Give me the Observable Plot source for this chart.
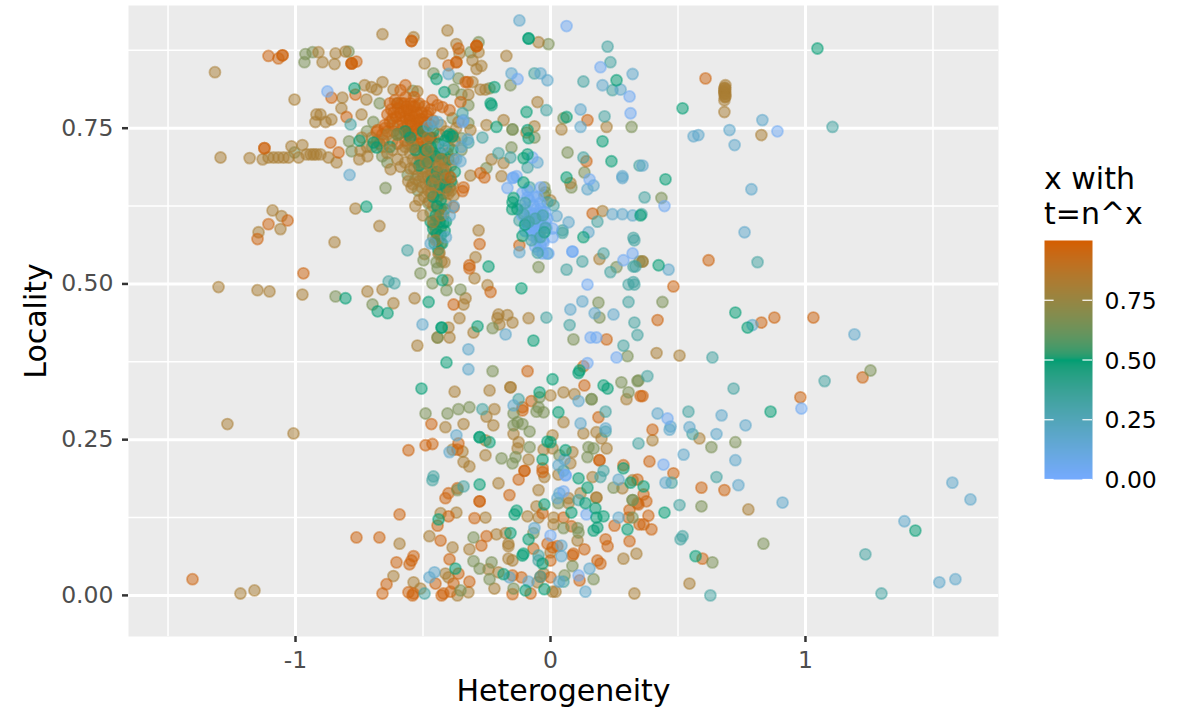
<!DOCTYPE html>
<html><head><meta charset="utf-8">
<script src="https://cdn.jsdelivr.net/npm/d3@7"></script>
<script src="https://cdn.jsdelivr.net/npm/@observablehq/plot@0.6"></script>
<style>
html,body{margin:0;padding:0;background:#fff;font-family:"DejaVu Sans",sans-serif}
#wrap{position:relative;width:1179px;height:711px;overflow:hidden}
#wrap svg{position:absolute;left:0;top:0;background:transparent}
#legend{position:absolute;left:1044px;top:162px;font-size:30px;line-height:34.5px;color:#000;white-space:pre}
</style></head><body>
<div id="wrap"></div>
<script>
const tones = {orange:.97, tan:.82, olive:.66, green:.5, teal:.33, sky:.18, blue:.04};

const tanPoints = [[-1.316,.84],[-.91,.872],[-.894,.856],[-.843,.87],[-.804,.873],[-.847,.853],[-.659,.901],[-.537,.896],[-1.004,.796],[-.816,.799],[-.729,.819],[-.702,.816],[-.682,.812],[-.659,.824],[-.616,.812],[-.722,.796],[-.82,.782],[-.902,.772],[-.918,.772],[-.922,.76],[-.882,.76],[-.859,.764],[-.741,.772],[-1.016,.721],[-.973,.723],[-1.294,.703],[-1.18,.702],[-1.129,.7],[-1.106,.703],[-1.086,.703],[-1.067,.703],[-1.047,.703],[-1.027,.703],[-.988,.703],[-.957,.708],[-.941,.708],[-.929,.708],[-.918,.708],[-.902,.708],[-.871,.703],[-.839,.695],[-.745,.714],[-.718,.705],[-.627,.684],[-.588,.688],[-.765,.621],[-1.09,.618],[-1.055,.609],[-1.059,.588],[-1.145,.583],[-.847,.567],[-.671,.593],[-1.302,.495],[-1.149,.49],[-1.102,.488],[-.973,.483],[-.718,.488],[-.659,.491],[-.616,.469],[-1.267,.275],[-1.008,.26],[-1.216,.003],[-1.161,.008],[-.592,.083],[-.616,.031],[-.404,.907],[-.369,.885],[-.424,.87],[-.357,.87],[-.494,.854],[-.282,.872],[-.306,.859],[-.271,.85],[-.29,.845],[-.173,.866],[-.047,.888],[-.051,.792],[-.275,.812],[-.255,.812],[.22,.752],[.043,.748],[-.184,.763],[-.251,.755],[-.094,.743],[-.063,.753],[-.314,.747],[-.231,.7],[-.184,.694],[-.192,.673],[-.314,.674],[.078,.662],[0,.634],[.204,.617],[-.522,.809],[-.306,.824],[-.322,.804],[-.518,.787],[-.361,.76],[.192,.54],[.361,.536],[.682,.776],[.827,.739],
[-.282,.586],[-.294,.543],[-.298,.509],[-.247,.498],[-.494,.548],[-.439,.548],[-.427,.536],[-.416,.535],[-.404,.506],[-.533,.477],[-.333,.477],[-.341,.467],[-.357,.445],[-.4,.43],[-.302,.422],[-.443,.414],[-.396,.414],[-.522,.401],[-.204,.451],[-.208,.445],[-.169,.45],[-.149,.438],[-.2,.435],[-.086,.445],[-.376,.327],[-.239,.329],[-.157,.334],[-.157,.334],[.051,.326],[.094,.323],[.298,.315],[.416,.389],[.506,.385],[0,.321],[-.22,.299],[-.251,.287],[-.412,.27],[-.341,.275],[-.224,.273],[-.255,.249],[-.384,.234],[-.345,.231],[-.255,.225],[-.341,.214],[-.318,.207],[-.145,.259],[-.125,.246],[-.129,.236],[-.086,.218],[-.204,.18],[-.047,.169],[-.024,.19],[-.027,.234],[.008,.257],[.008,.236],[.051,.278],[.129,.26],[.18,.262],[.2,.252],[.22,.236],[.086,.23],[.078,.212],[.031,.194],[.165,.19],[.118,.164],[.071,.156],[.071,.148],[.18,.157],[.18,.157],[.322,.185],[.282,.172],[.286,.059],[.337,.067],[.329,.003],[.4,.249],[.584,.252],[.776,.138],[.008,.006],[.02,.006],[-.027,.035],[-.051,.021],[-.22,.011],[-.243,.042],[-.204,.037],[-.318,.074],[-.212,.098],[-.176,.1],[-.165,.083],[-.165,.079],[-.165,.059],[-.149,.056],[0,.069],[.106,.088],[.012,.114],[.012,.125],[-.055,.143],[-.047,.125],[-.09,.127],[-.255,.125],[-.369,.133],[-.431,.132],[-.475,.095],[-.384,.077],[-.537,.021],[-.412,.035],[-.4,.029],[-.365,0],[-.322,.005],[-.51,.011],[.545,.019]];

const brownPoints = [[.686,.819],[.682,.814],[.682,.808],[.686,.801],[.682,.795],[.686,.812],[.682,.805],[.682,.81],[.686,.805],[.684,.815],[.684,.8]];

const orangePoints = [[-1.106,.866],[-1.067,.862],[-1.051,.867],[-1.051,.867],[-.78,.854],[-.78,.854],[-.78,.854],[-.761,.857],[-.545,.89],[-.545,.89],[-.859,.799],[-.765,.804],[-.569,.819],[-.588,.811],[-.8,.768],[-1.122,.718],[-1.122,.718],[-.863,.727],[-.682,.744],[-.831,.711],[-1.031,.602],[-1.106,.596],[-1.149,.572],[-.969,.517],[-.761,.093],[-.671,.093],[-.592,.13],[-.604,.053],[-.643,.018],[-.659,.003],[-1.404,.026],[-.361,.878],[-.4,.851],[-.369,.856],[-.369,.856],[-.29,.882],[-.29,.882],[-.29,.882],[-.463,.795],[-.443,.787],[-.396,.779],[-.424,.784],[-.353,.792],[-.333,.824],[-.325,.824],[.145,.763],[-.275,.678],[-.259,.671],[.141,.697],[.165,.613],[-.392,.671],[-.341,.655],[-.345,.649],[-.38,.623],[.608,.83],[.62,.538],[.482,.496],[.42,.442],[.827,.438],[.878,.446],[1.031,.446],[1.224,.35],[.98,.318],[.361,.32],[.4,.266],[.388,.215],[.482,.196],[.592,.173],[.682,.169],[.365,.162],[.376,.151],[.345,.146],[.384,.128],[.365,.114],[.396,.106],[.596,.059],[-.278,.564],[-.318,.53],[-.318,.525],[-.235,.487],[-.38,.467],[-.122,.562],[-.09,.36],[.129,.368],[.133,.337],[.22,.411],[-.075,.312],[-.11,.302],[-.11,.297],[.188,.286],[.353,.32],[-.467,.275],[-.49,.241],[-.463,.243],[-.557,.233],[-.361,.244],[-.365,.234],[-.102,.2],[-.102,.2],[-.125,.186],[-.161,.161],[-.031,.204],[-.031,.198],[.192,.217],[.192,.217],[.31,.137],[.306,.125],[.251,.112],[.31,.087],[.224,.079],[.216,.09],[.349,.114],[.341,.148],[.341,.186],[.286,.209],[.184,.056],[.196,.051],[.114,.024],[-.039,.03],[-.078,.003],[-.114,.029],[-.149,.002],[-.149,.032],[-.271,.08],[-.251,.095],[-.067,.075],[.0,.056],[-.012,.083],[.008,.077],[.027,.079],[.09,.067],[.086,.064],[.133,.074],[.082,.111],[.051,.125],[-.031,.132],[-.298,.124],[-.278,.151],[-.278,.151],[-.365,.172],[-.4,.164],[-.412,.156],[-.4,.127],[-.443,.112],[-.431,.088],[-.396,.058],[-.537,.063],[-.545,.056],[-.553,.05],[-.451,.019],[-.361,.035],[-.318,.022],[-.38,.019],[-.392,.006],[-.42,.003],[-.427,0],[-.557,.005],[-.541,0],[-.537,.003],[.0,.029]];

const denseOrange = [[-.64,.772],[-.63,.76],[-.625,.78],[-.615,.745],[-.61,.795],[-.605,.768],[-.6,.755],[-.598,.782],[-.59,.742],[-.588,.77],[-.585,.79],[-.58,.76],[-.578,.75],[-.575,.778],[-.57,.768],[-.568,.8],[-.565,.785],[-.56,.755],[-.558,.742],[-.555,.772],[-.553,.765],[-.55,.79],[-.548,.778],[-.545,.755],[-.54,.745],[-.538,.768],[-.535,.8],[-.532,.785],[-.53,.758],[-.525,.775],[-.522,.74],[-.52,.762],[-.515,.79],[-.51,.752],[-.505,.775],[-.5,.765],[-.495,.785],[-.49,.748],[-.485,.77],[-.48,.758],[-.47,.78],[-.46,.762],[-.66,.74],[-.67,.725],[-.65,.75],[-.678,.747],[-.655,.73],[-.6,.725],[-.57,.73],[-.545,.73],[-.52,.725],[-.5,.728],
[-.65,.755],[-.64,.745],[-.63,.79],[-.62,.765],[-.615,.775],[-.6,.79],[-.59,.775],[-.575,.79],[-.565,.745],[-.56,.78],[-.55,.76],[-.54,.785],[-.53,.77],[-.52,.75],[-.51,.765],[-.5,.75],[-.49,.76],[-.48,.775],[-.47,.755],[-.471,.735],[-.471,.735],[-.471,.735]];

const denseTanLower = [[-.56,.725],[-.55,.71],[-.54,.7],[-.535,.685],[-.53,.72],[-.525,.695],[-.52,.71],[-.52,.675],[-.515,.665],[-.51,.7],[-.51,.685],[-.505,.72],[-.505,.655],[-.5,.672],[-.5,.695],[-.495,.71],[-.495,.64],[-.49,.68],[-.49,.66],[-.485,.7],[-.485,.725],[-.48,.65],[-.48,.672],[-.475,.69],[-.475,.632],[-.47,.71],[-.47,.66],[-.465,.68],[-.465,.645],[-.46,.7],[-.46,.625],[-.455,.672],[-.455,.655],[-.45,.72],[-.45,.69],[-.445,.64],[-.44,.668],[-.44,.705],[-.435,.65],[-.43,.685],[-.43,.62],[-.425,.67],[-.42,.7],[-.42,.645],[-.415,.66],[-.41,.685],[-.41,.63],[-.405,.71],[-.4,.675],[-.395,.655],[-.39,.69],[-.385,.66],[-.38,.642],[-.37,.75],[-.385,.74],[-.41,.745],[-.435,.74],[-.46,.735],[-.49,.705],[-.505,.735],[-.535,.74],[-.58,.715],[-.62,.73],[-.64,.71],[-.6,.7],[-.57,.695],[-.558,.665],[-.54,.66],[-.445,.605],[-.46,.595],[-.43,.565],[-.45,.585],[-.42,.61],[-.44,.62]];

const denseTanUpper = [[-.57,.72],[-.55,.685],[-.545,.655],[-.53,.625],[-.515,.635],[-.5,.61],[-.49,.695],[-.48,.715],[-.47,.645],[-.46,.66],[-.45,.67],[-.44,.69],[-.43,.7],[-.42,.685],[-.41,.67],[-.4,.645],[-.39,.65],[-.38,.7],[-.375,.73],[-.43,.755],[-.48,.735],[-.54,.72],[-.46,.6],[-.43,.61],[-.45,.57],[-.435,.55],[-.74,.735],[-.72,.72],[-.7,.735],[-.68,.73],[-.66,.72],[-.64,.74],[-.62,.715],[-.6,.74],[-.75,.7]];

const denseOlive = [[-.6,.79],[-.62,.755],[-.56,.74],[-.53,.668],[-.52,.65],[-.505,.7],[-.49,.74],[-.48,.63],[-.47,.675],[-.455,.71],[-.44,.64],[-.43,.655],[-.415,.695],[-.405,.65],[-.4,.72],[-.39,.735],[-.47,.615],[-.45,.6],[-.43,.59],[-.46,.575],[-.44,.57],[-.54,.81],[-.67,.79],[-.695,.76],[-.72,.745],[-.7,.72],[-.66,.705],[-.64,.695],[-.56,.675],[-.79,.729],[-.78,.713],[-.961,.869],[-.965,.856],[-.933,.872],[-.792,.873],[-1.004,.711],[-.647,.654],[-.843,.48],[-.698,.467],[-.459,.838],[-.38,.812],[-.361,.83],[-.349,.804],[-.322,.787],[-.322,.758],[-.384,.766],[-.349,.734],[-.349,.715],[-.282,.888],[-.314,.872],[-.157,.819],[-.239,.814],[.051,.766],[.318,.752],[.067,.711],[-.149,.748],[-.149,.748],[-.153,.719],[-.063,.735],[-.251,.686],[.082,.655],[-.024,.655],[-.02,.647],[-.024,.642],[.133,.679],[.435,.638],[-.008,.885],[.361,.536],[.259,.527],[.349,.536],[.188,.47],[.192,.446],[.09,.411],[.302,.384],[.439,.471]];

const outerOlive = [[-.498,.538],[-.447,.535],[-.443,.525],[-.51,.517],[-.463,.501],[-.408,.49],[-.353,.491],[-.227,.36],[-.227,.429],[-.443,.414],[-.047,.527],[.345,.345],[1.255,.361],[.725,.246],[.631,.238],[.835,.083],[.635,.053],[.592,.143],[.322,.153],[-.043,.318],[-.047,.302],[-.027,.294],[-.055,.295],[.161,.315],[.161,.315],[.278,.342],[.341,.344],[.306,.326],[-.145,.292],[-.318,.302],[-.361,.299],[-.404,.292],[-.49,.292],[-.145,.273],[-.11,.275],[-.129,.278],[-.082,.263],[-.082,.238],[-.192,.22],[-.137,.222],[-.149,.212],[.149,.238],[.169,.236],[.145,.222],[.035,.225],[.247,.173],[.031,.148],[.051,.108],[.106,.108],[.11,.101],[.086,.047],[.055,.032],[.169,.026],[-.067,.1],[-.302,.093],[-.239,.026],[-.278,.043],[-.302,.055],[-.231,.053],[-.145,.011],[-.365,.169],[-.353,.008],[.322,.153],[.322,.125]];

const bodyGreen = [[-.55,.735],[-.53,.715],[-.515,.69],[-.5,.745],[-.49,.715],[-.48,.695],[-.47,.72],[-.465,.665],[-.46,.745],[-.45,.705],[-.445,.68],[-.44,.725],[-.435,.66],[-.43,.71],[-.42,.675],[-.415,.73],[-.41,.655],[-.4,.7],[-.395,.74],[-.39,.665],[-.385,.715],[-.375,.68],[-.46,.64],[-.445,.625],[-.43,.635],[-.415,.62],[-.45,.61],[-.435,.6],[-.42,.598],[-.46,.588],[-.445,.58],[-.43,.578],[-.415,.585],[-.455,.565],[-.44,.555],[-.425,.565],[-.41,.6],[-.47,.6],[-.6,.74],[-.57,.745],[-.63,.72]];

const greenPoints = [[-.682,.719],[-.694,.727],[-.749,.73],[-.722,.624],[-.769,.814],[-.804,.477],[-.678,.456],[-.639,.453],[-.404,.737],[-.384,.737],[-.447,.829],[-.416,.808],[-.22,.816],[-.235,.79],[-.231,.787],[-.212,.752],[-.086,.734],[-.094,.776],[-.09,.747],[-.086,.894],[-.086,.894],[.259,.827],[.204,.729],[.063,.671],[.239,.697],[-.106,.702],[-.09,.708],[-.106,.663],[.063,.768],[.518,.782],[.451,.668],[.424,.53],[1.047,.878],[.353,.61],[-.145,.638],[-.149,.631],[-.11,.577],[-.024,.583],[.129,.575],[-.243,.528],[-.114,.493],[.008,.347],[-.506,.332],[-.408,.374],[-.478,.471],[-.424,.506],[-.427,.43],[-.427,.43],[-.286,.432],[-.067,.409],[.114,.361],[.11,.357],[.208,.337],[.224,.332],[-.043,.326],[.031,.294],[.725,.454],[.773,.43],[.863,.295],[-.278,.254],[-.278,.254],[-.239,.246],[-.278,.178],[-.031,.218],[-.012,.247],[0,.246],[.059,.233],[.11,.188],[.145,.173],[.137,.148],[.176,.14],[.18,.125],[.208,.127],[.302,.106],[.184,.109],[.169,.104],[.286,.204],[.314,.181],[-.133,.136],[-.141,.13],[-.024,.146],[-.086,.09],[-.031,.051],[-.024,.01],[-.098,.008],[-.184,.034],[-.11,.064],[-.106,.067],[-.157,.1],[-.439,.122],[-.373,.043],[.365,.175],[.447,.133],[.569,.063],[1.431,.104],[.082,.133],[-.13,.62],[-.15,.62],[-.1,.595]];

const tealPoints = [[-.784,.756],[-.345,.774],[-.322,.727],[-.267,.735],[.224,.881],[.235,.856],[-.063,.838],[.129,.825],[.243,.811],[-.016,.779],[.212,.769],[-.204,.71],[-.157,.703],[-.09,.687],[.129,.703],[.349,.69],[-.082,.655],[-.012,.631],[.012,.626],[.047,.586],[.047,.582],[.184,.6],[-.122,.602],[1.106,.752],[.369,.639],[.357,.612],[.325,.574],[.329,.57],[.812,.535],[.333,.528],[-.561,.554],[-.635,.504],[-.612,.501],[-.012,.549],[.125,.536],[.063,.523],[.208,.549],[.235,.519],[.325,.528],[.306,.499],[.325,.503],[.329,.499],[.306,.471],[.329,.438],[.075,.434],[.341,.418],[-.016,.446],[.286,.401],[.38,.352],[.635,.382],[.718,.332],[1.075,.344],[.541,.295],[.216,.295],[.557,.259],[-.125,.315],[-.267,.299],[.216,.263],[.345,.244],[-.459,.191],[-.463,.185],[-.341,.175],[.11,.153],[.051,.2],[.208,.2],[.196,.19],[.475,.181],[.651,.19],[.506,.145],[.518,.095],[.51,.09],[-.047,.064],[-.047,.056],[.051,.022],[-.494,.003],[1.235,.066],[.627,0],[1.298,.003],[-.04,.03]];

const clusterTeal = [[-.1,.63],[-.085,.6],[-.06,.605],[-.04,.575],[-.03,.61],[-.075,.57],[-.05,.55],[-.105,.612],[-.02,.59]];

const skyPoints = [[-.788,.675],[-.122,.923],[.322,.837],[-.153,.838],[-.039,.838],[-.012,.827],[.204,.819],[.275,.812],[.118,.78],[.118,.752],[.361,.69],[-.051,.695],[.169,.658],[.145,.652],[.282,.673],[.282,.67],[.243,.612],[.282,.612],[.322,.61],[-.4,.837],[-.443,.76],[-.478,.753],[-.341,.763],[-.353,.697],[-.325,.732],[-.122,.551],[.024,.609],[.071,.599],[.149,.583],[.078,.459],[.125,.472],[.247,.451],[.173,.453],[-.502,.435],[-.322,.395],[-.322,.363],[-.176,.419],[.11,.312],[-.145,.305],[.42,.292],[.471,.271],[.467,.266],[.545,.27],[.651,.259],[.765,.273],[.671,.289],[.522,.226],[.725,.217],[.451,.181],[.737,.177],[.91,.149],[1.192,.419],[.792,.434],[.561,.737],[.58,.739],[.702,.747],[.722,.723],[.831,.763],[.788,.652],[.761,.583],[.463,.523],[1.576,.181],[1.647,.154],[1.388,.119],[1.525,.021],[1.588,.026],[-.369,.257],[-.396,.23],[.055,.218],[.031,.209],[.216,.268],[.118,.276],[.035,.164],[.027,.156],[.267,.186],[.267,.125],[.043,.08],[.043,.063],[.153,.043],[.137,.006],[.034,.022],[-.086,.022],[-.161,.029],[-.063,.108],[-.455,.037],[-.475,.029],[-.35,.72],[-.37,.7],[-.38,.625],[-.395,.61],[-.41,.575],[-.47,.565],[-.42,.72],[-.46,.76]];

const bluePoints = [[-.875,.809],[.063,.914],[.196,.848],[-.129,.829],[.31,.801],[.314,.774],[-.071,.703],[.153,.668],[-.145,.671],[-.169,.654],[-.149,.67],[-.133,.673],[-.039,.655],[-.11,.646],[-.09,.639],[-.118,.626],[-.082,.634],[-.067,.626],[-.039,.621],[-.02,.615],[-.086,.605],[-.059,.613],[-.047,.602],[-.067,.594],[-.031,.594],[-.086,.591],[-.012,.605],[-.051,.594],[-.071,.578],[-.051,.578],[.008,.589],[.008,.575],[-.027,.567],[-.055,.573],[-.039,.562],[-.047,.554],[-.031,.549],[-.008,.549],[-.075,.61],[-.06,.585],[-.04,.63],[.086,.552],[.086,.552],[.259,.382],[.286,.538],[.322,.549],[.145,.499],[.157,.414],[.18,.414],[.145,.373],[.447,.625],[.89,.745],[.459,.284],[.443,.21],[.984,.3],[.059,.193],[.059,.193],[.051,.167],[.141,.13],[.11,.032],[0,.096],[-.345,.76],
[-.1,.62],[-.095,.6],[-.08,.615],[-.07,.6],[-.055,.62],[-.045,.61],[-.03,.615],[-.02,.6],[-.06,.59],[-.075,.585],[-.04,.585],[-.03,.57],[-.06,.56],[-.015,.59],[-.11,.61],[-.1,.585],[-.05,.64],[-.065,.64],[-.09,.65]];

const drawOrder = [
  [denseOlive, tones.olive], [tanPoints, tones.tan], [denseTanLower, tones.tan],
  [brownPoints, tones.tan], [denseOrange, tones.orange], [bodyGreen, tones.green],
  [denseTanUpper, tones.tan], [orangePoints, tones.orange],
  [outerOlive, tones.olive], [tealPoints, tones.teal], [skyPoints, tones.sky],
  [bluePoints, tones.blue], [greenPoints, tones.green], [clusterTeal, tones.teal]
];
const rows = drawOrder.flatMap(([pts, t]) => pts.map(([x, y]) => ({x, y, t})));

const xMajor = [-1, 0, 1], xMinor = [-1.5, -.5, .5, 1.5];
const yMajor = [0, .25, .5, .75], yMinor = [.125, .375, .625, .875];
const colorDomain = [0, .5, 1], colorRange = ["#75aaff", "#009e73", "#d55e00"];
const colorOpts = {type: "linear", domain: colorDomain, range: colorRange, interpolate: "lab"};

const main = Plot.plot({
  width: 1179, height: 711, marginLeft: 128, marginRight: 181, marginTop: 5, marginBottom: 75,
  style: {fontFamily: "DejaVu Sans", background: "transparent"},
  x: {domain: [-1.655, 1.757]}, y: {domain: [-.066, .947]}, color: colorOpts,
  marks: [
    Plot.frame({fill: "#ebebeb", stroke: "none"}),
    Plot.ruleX(xMinor, {stroke: "#fff", strokeWidth: 1.5}),
    Plot.ruleY(yMinor, {stroke: "#fff", strokeWidth: 1.5}),
    Plot.ruleX(xMajor, {stroke: "#fff", strokeWidth: 3}),
    Plot.ruleY(yMajor, {stroke: "#fff", strokeWidth: 3}),
    Plot.dot(rows, {x: "x", y: "y", r: 5.5, fill: "t", stroke: "t", strokeWidth: 1.8, fillOpacity: .5, strokeOpacity: .5}),
    Plot.axisX({ticks: xMajor, tickFormat: d => String(d), label: null, tickSize: 6, tickPadding: 9, fontSize: 23.5, color: "#4d4d4d", stroke: "#333", strokeWidth: 2.5}),
    Plot.axisY({ticks: yMajor, tickFormat: d3.format(".2f"), label: null, tickSize: 6, tickPadding: 9, fontSize: 23.5, color: "#4d4d4d", stroke: "#333", strokeWidth: 2.5}),
    Plot.text(["Heterogeneity"], {frameAnchor: "bottom", dy: 64, fontSize: 30, fill: "#000"}),
    Plot.text(["Locality"], {frameAnchor: "left", textAnchor: "middle", dx: -92, rotate: -90, fontSize: 30, fill: "#000"})
  ]
});

const legendTicks = [0, .25, .5, .75];
const legendPlot = Plot.plot({
  width: 1179, height: 711, marginLeft: 1044, marginRight: 87, marginTop: 240, marginBottom: 232,
  style: {fontFamily: "DejaVu Sans", background: "transparent"},
  x: {domain: [0, 1], axis: null}, y: {domain: [0, 1], axis: null}, color: colorOpts,
  marks: [
    Plot.raster({x1: 0, x2: 1, y1: 0, y2: 1, fill: (x, y) => y, pixelSize: 1}),
    Plot.ruleY(legendTicks, {x1: 0, x2: .2, stroke: "#fff", strokeWidth: 1.2}),
    Plot.ruleY(legendTicks, {x1: .8, x2: 1, stroke: "#fff", strokeWidth: 1.2}),
    Plot.axisY({anchor: "right", ticks: legendTicks, tickFormat: d3.format(".2f"), label: null, tickSize: 0, tickPadding: 12, fontSize: 23.5, color: "#000", dy: 1})
  ]
});

const wrap = document.getElementById("wrap");
wrap.append(main, legendPlot);
const title = document.createElement("div");
title.id = "legend";
title.textContent = "x with\nt=n^x";
wrap.append(title);
</script>
</body></html>
